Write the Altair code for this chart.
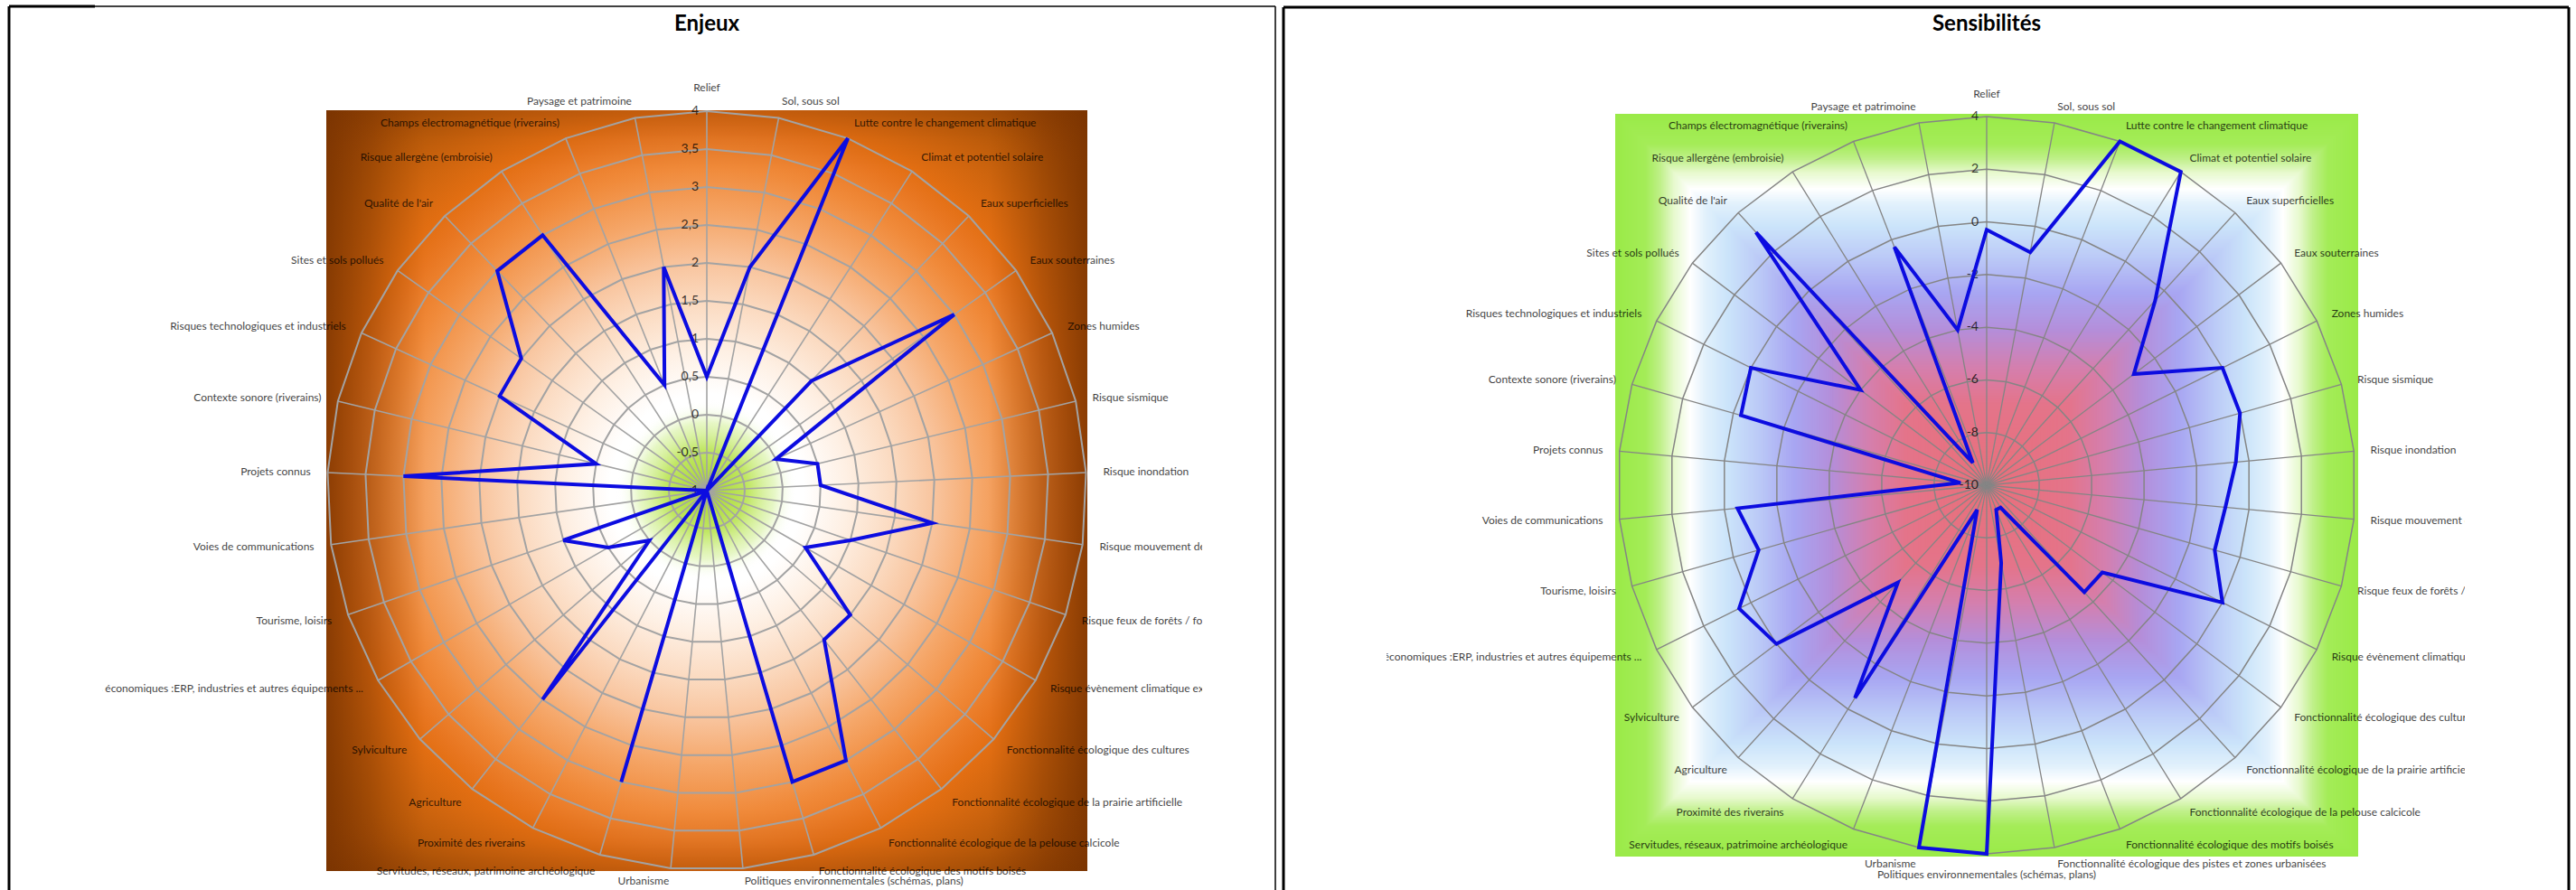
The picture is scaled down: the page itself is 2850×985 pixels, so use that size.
import altair as alt
import pandas as pd

CANVAS_W, CANVAS_H = 2850, 985
FONT = "Lato"
BLUE = "#0C0CE0"

titles = ["Enjeux", "Sensibilités"]

cats_enjeux = [
    "Relief", "Sol, sous sol", "Lutte contre le changement climatique", "Climat et potentiel solaire",
    "Eaux superficielles", "Eaux souterraines", "Zones humides", "Risque sismique", "Risque inondation",
    "Risque mouvement de terrain", "Risque feux de forêts / foudre", "Risque évènement climatique extrême",
    "Fonctionnalité écologique des cultures", "Fonctionnalité écologique de la prairie artificielle",
    "Fonctionnalité écologique de la pelouse calcicole", "Fonctionnalité écologique des motifs boisés",
    "Politiques environnementales (schémas, plans)", "Urbanisme",
    "Servitudes, réseaux, patrimoine archéologique", "Proximité des riverains", "Agriculture", "Sylviculture",
    "Activités économiques :ERP, industries et autres équipements ...", "Tourisme, loisirs",
    "Voies de communications", "Projets connus", "Contexte sonore (riverains)",
    "Risques technologiques et industriels", "Sites et sols pollués", "Qualité de l'air",
    "Risque allergène (embroisie)", "Champs électromagnétique (riverains)", "Paysage et patrimoine",
]
vals_enjeux = [0.5, 2, 4, -1, 1, 3, 0, 0.5, 0.5, 2,
               1, 0.5, 1.5, 1.5, 3, 3, -1, -1, 3, -1,
               2.5, 0, 0.5, 1, -1, 3, 0.5, 2, 2, 3,
               3, 0.5, 2]

cats_sens = [
    "Relief", "Sol, sous sol", "Lutte contre le changement climatique", "Climat et potentiel solaire",
    "Eaux superficielles", "Eaux souterraines", "Zones humides", "Risque sismique", "Risque inondation",
    "Risque mouvement de terrain", "Risque feux de forêts / foudre", "Risque évènement climatique extrême",
    "Fonctionnalité écologique des cultures", "Fonctionnalité écologique de la prairie artificielle",
    "Fonctionnalité écologique de la pelouse calcicole", "Fonctionnalité écologique des motifs boisés",
    "Fonctionnalité écologique des pistes et zones urbanisées",
    "Politiques environnementales (schémas, plans)", "Urbanisme",
    "Servitudes, réseaux, patrimoine archéologique", "Proximité des riverains", "Agriculture", "Sylviculture",
    "Activités économiques :ERP, industries et autres équipements ...", "Tourisme, loisirs",
    "Voies de communications", "Projets connus", "Contexte sonore (riverains)",
    "Risques technologiques et industriels", "Sites et sols pollués", "Qualité de l'air",
    "Risque allergène (embroisie)", "Champs électromagnétique (riverains)", "Paysage et patrimoine",
]
vals_sens = [-0.3, -1, 4, 4, -0.5, -3, 0, 0, -0.5, -0.9,
             -1, 0, -4.5, -4.5, -9, -9, -7, 4, 4, -9,
             -0.5, -5, 0, 0.5, -1, -0.5, -9, -0.3, 0, -4,
             3, -9, -0.3, -4]

ticks_enjeux = [-1, -0.5, 0, 0.5, 1, 1.5, 2, 2.5, 3, 3.5, 4]
tick_labels_enjeux = ["-1", "-0,5", "0", "0,5", "1", "1,5", "2", "2,5", "3", "3,5", "4"]
ticks_sens = [-10, -8, -6, -4, -2, 0, 2, 4]
tick_labels_sens = ["-10", "-8", "-6", "-4", "-2", "0", "2", "4"]

X = alt.X("px:Q", scale=alt.Scale(domain=[0, CANVAS_W], nice=False, zero=False), axis=None)
Y = alt.Y("py:Q", scale=alt.Scale(domain=[0, CANVAS_H], nice=False, zero=False, reverse=True), axis=None)
one = pd.DataFrame({"k": [0]})


def stops(pairs):
    return [alt.GradientStop(offset=o, color=c) for o, c in pairs]


def radar(cats, vals, ticks, tick_labels, cx, cy, R, grid_color, grid_w, spoke_w, ymax):
    n = len(cats)
    vmin, vmax = ticks[0], ticks[-1]
    span = vmax - vmin
    df = pd.DataFrame({"cat": cats, "val": vals, "idx": list(range(n))})
    grid = pd.DataFrame([{"g": g, "idx": i} for g in ticks[1:] for i in range(n)])
    tk = pd.DataFrame({"tick": ticks, "lab": tick_labels})

    def polar(ch, field):
        return ch.transform_calculate(
            t=f"2*PI*datum.idx/{n}",
            r=f"(datum.{field}-({vmin}))/{span}",
        ).transform_calculate(
            px=f"{cx}+{R}*datum.r*sin(datum.t)",
            py=f"{cy}-{R}*datum.r*cos(datum.t)",
        )

    layers = []
    layers.append(
        polar(alt.Chart(grid), "g")
        .mark_line(interpolate="linear-closed", color=grid_color, strokeWidth=grid_w)
        .encode(x=X, y=Y, detail="g:N", order="idx:Q")
    )
    layers.append(
        alt.Chart(df)
        .transform_calculate(t=f"2*PI*datum.idx/{n}")
        .transform_calculate(
            px=f"{cx}", py=f"{cy}",
            px2=f"{cx}+{R}*sin(datum.t)", py2=f"{cy}-{R}*cos(datum.t)",
        )
        .mark_rule(color=grid_color, strokeWidth=spoke_w)
        .encode(x=X, y=Y, x2=alt.X2("px2"), y2=alt.Y2("py2"))
    )
    layers.append(
        alt.Chart(tk)
        .transform_calculate(r=f"(datum.tick-({vmin}))/{span}")
        .transform_calculate(px=f"{cx - 9}", py=f"{cy}-{R}*datum.r")
        .mark_text(align="right", baseline="middle", font=FONT, fontSize=14, color="black", opacity=0.75)
        .encode(x=X, y=Y, text="lab:N")
    )
    layers.append(
        polar(alt.Chart(df), "val")
        .mark_line(interpolate="linear-closed", color=BLUE, strokeWidth=4)
        .encode(x=X, y=Y, order="idx:Q")
    )
    LK = 1.045
    base = (
        alt.Chart(df)
        .transform_calculate(t=f"2*PI*datum.idx/{n}")
        .transform_calculate(s="sin(datum.t)", c="cos(datum.t)")
        .transform_calculate(px=f"{cx}+{R * LK}*datum.s",
                             py=f"min({cy}-{R * LK}*datum.c, {ymax})")
    )
    txt = dict(font=FONT, fontSize=12, color="black", opacity=0.75)
    layers.append(base.transform_filter("datum.s > 0.02")
                  .mark_text(align="left", baseline="middle", **txt).encode(x=X, y=Y, text="cat:N"))
    layers.append(base.transform_filter("datum.s < -0.02")
                  .mark_text(align="right", baseline="middle", **txt).encode(x=X, y=Y, text="cat:N"))
    layers.append(base.transform_filter("abs(datum.s) <= 0.02 && datum.c > 0")
                  .mark_text(align="center", baseline="bottom", **txt).encode(x=X, y=Y, text="cat:N"))
    layers.append(base.transform_filter("abs(datum.s) <= 0.02 && datum.c < 0")
                  .mark_text(align="center", baseline="top", **txt).encode(x=X, y=Y, text="cat:N"))
    return layers


def vrect(x1, x2, y1, y2, **mk):
    return alt.Chart(one).mark_rect(strokeWidth=0, **mk).encode(
        x=alt.value(x1), x2=alt.value(x2), y=alt.value(y1), y2=alt.value(y2))


# ---------------- Enjeux panel ----------------
ECX, ECY, ER, EH = 782, 543, 420, 421
enj_main = alt.RadialGradient(
    gradient="radial", x1=0.5, y1=0.5, r1=0, x2=0.5, y2=0.5, r2=0.7071,
    stops=stops([(0, "#FFFFFF"), (0.18, "#FFFFFF"), (0.26, "#FEF0E4"), (0.35, "#FBDAC0"),
                 (0.43, "#F8C29A"), (0.51, "#F5A668"), (0.6, "#F08A3A"), (0.67, "#E87620"),
                 (0.71, "#E26E12"), (0.85, "#BC5C0A"), (1.0, "#8E4206")]))
enj_h = alt.LinearGradient(
    gradient="linear", x1=0, y1=0, x2=1, y2=0,
    stops=stops([(0, "rgba(120,50,0,0.82)"), (0.06, "rgba(130,55,0,0.45)"), (0.13, "rgba(160,70,0,0)"),
                 (0.87, "rgba(160,70,0,0)"), (0.94, "rgba(130,55,0,0.45)"), (1, "rgba(120,50,0,0.82)")]))
enj_v = alt.LinearGradient(
    gradient="linear", x1=0, y1=0, x2=0, y2=1,
    stops=stops([(0, "rgba(120,50,0,0.3)"), (0.04, "rgba(130,55,0,0.08)"), (0.08, "rgba(160,70,0,0)"),
                 (0.92, "rgba(160,70,0,0)"), (0.96, "rgba(130,55,0,0.08)"), (1, "rgba(120,50,0,0.3)")]))
enj_green = alt.RadialGradient(
    gradient="radial", x1=0.5, y1=0.5, r1=0, x2=0.5, y2=0.5, r2=0.5,
    stops=stops([(0, "rgba(165,212,45,1)"), (0.45, "rgba(185,228,80,0.9)"),
                 (0.75, "rgba(210,240,150,0.55)"), (1, "rgba(255,255,255,0)")]))

layers = []
layers.append(vrect(ECX - EH, ECX + EH, ECY - EH, ECY + EH, fill=enj_main))
layers.append(vrect(ECX - EH, ECX + EH, ECY - EH, ECY + EH, fill=enj_h))
layers.append(vrect(ECX - EH, ECX + EH, ECY - EH, ECY + EH, fill=enj_v))
layers.append(vrect(ECX - 100, ECX + 100, ECY - 100, ECY + 100, fill=enj_green))
layers += radar(cats_enjeux, vals_enjeux, ticks_enjeux, tick_labels_enjeux,
                ECX, ECY, ER, "#A3A3A3", 2, 1.6, 975)

# ---------------- Sensibilités panel ----------------
SCX, SCY, SR, SH = 2198, 537, 408, 411
sens_dom = [0, 0.22, 0.32, 0.42, 0.52, 0.62, 0.70, 0.76, 0.80, 0.845, 0.88, 0.92, 1.0]
sens_rng = ["#E8707A", "#E4748A", "#D47FAE", "#B48EDA", "#A8A6F2", "#BCCBF7", "#CBE4FA",
            "#E2F1FC", "#FFFFFF", "#E6F9CC", "#C0F08A", "#A4EC58", "#9AEA48"]
layers.append(
    alt.Chart(alt.sequence(0, 1, 0.004, as_="k"))
    .transform_calculate(h="1-datum.k")
    .transform_calculate(px=f"{SCX}-{SH}*datum.h", px2=f"{SCX}+{SH}*datum.h",
                         py=f"{SCY}-{SH}*datum.h", py2=f"{SCY}+{SH}*datum.h")
    .mark_rect(strokeWidth=0)
    .encode(x=X, x2=alt.X2("px2"), y=Y, y2=alt.Y2("py2"),
            color=alt.Color("h:Q", scale=alt.Scale(domain=sens_dom, range=sens_rng, interpolate="rgb"),
                            legend=None))
)
layers += radar(cats_sens, vals_sens, ticks_sens, tick_labels_sens,
                SCX, SCY, SR, "#858585", 1.5, 1.3, 972)

# ---------------- masks (label clipping), frames, titles ----------------
layers.append(vrect(13, 113, 10, 985, color="white"))
layers.append(vrect(1330, 1409, 10, 985, color="white"))
layers.append(vrect(1423, 1534, 11, 985, color="white"))
layers.append(vrect(2727, 2840, 11, 985, color="white"))


def rule(x1, x2, y1, y2, w):
    enc = dict(x=alt.value(x1), y=alt.value(y1))
    if x2 != x1:
        enc["x2"] = alt.value(x2)
    if y2 != y1:
        enc["y2"] = alt.value(y2)
    return alt.Chart(one).mark_rule(color="black", strokeWidth=w).encode(**enc)


layers.append(rule(10, 10, 7, 985, 3))
layers.append(rule(10, 105, 7, 7, 3))
layers.append(rule(105, 1411, 7, 7, 1.5))
layers.append(rule(1411, 1411, 7, 985, 1.5))
layers.append(rule(1420, 1420, 8, 985, 3))
layers.append(rule(1420, 2842, 8, 8, 3))
layers.append(rule(2842, 2842, 8, 985, 3))

for ttl, tx in zip(titles, [ECX, SCX]):
    layers.append(
        alt.Chart(one).mark_text(font=FONT, fontSize=24, fontWeight="bold", color="black",
                                 align="center", baseline="middle")
        .encode(x=alt.value(tx), y=alt.value(27), text=alt.value(ttl))
    )

chart = (
    alt.layer(*layers)
    .properties(width=CANVAS_W, height=CANVAS_H, padding=0,
                autosize=alt.AutoSizeParams(type="none"))
    .configure_view(stroke=None)
)
chart.save("out.html", embed_options={"renderer": "svg", "actions": False})
